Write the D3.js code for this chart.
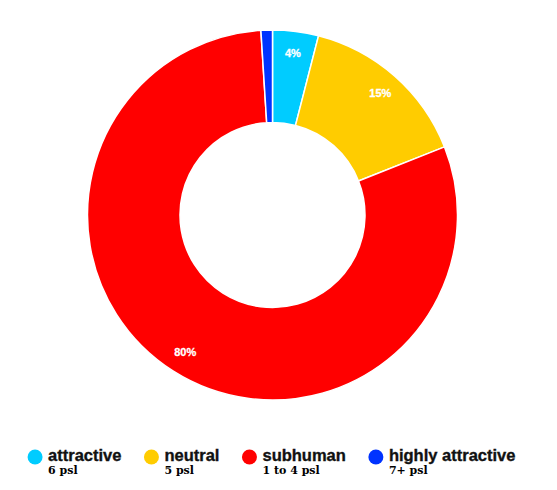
<!DOCTYPE html>
<html>
<head>
<meta charset="utf-8">
<script src="https://cdn.jsdelivr.net/npm/d3@7"></script>
<style>
  html, body { margin: 0; padding: 0; background: #fff; }
</style>
</head>
<body>
<div class="canva"></div>
<script>
// chart data
const labels = ["attractive", "neutral", "subhuman", "highly attractive"];
const subLabels = ["6 psl", "5 psl", "1 to 4 psl", "7+ psl"];
const values = [4, 15, 80, 1];
const colors = ["#00ccff", "#ffcc00", "#ff0000", "#0033ff"];

const width = 557, height = 490;
const cx = 272.5, cy = 215;
const outerR = 185, innerR = 92.5;

const svg = d3.select(".canva").append("svg")
    .attr("width", width)
    .attr("height", height);

const data = labels.map((l, i) => ({label: l, sub: subLabels[i], value: values[i], color: colors[i]}));
const total = d3.sum(values);

const pie = d3.pie().sort(null).value(d => d.value);
const arc = d3.arc().innerRadius(innerR).outerRadius(outerR);
const labelArc = d3.arc().innerRadius(163).outerRadius(163);

const donut = svg.append("g").attr("transform", `translate(${cx}, ${cy})`);

donut.selectAll("path")
    .data(pie(data))
    .join("path")
    .attr("d", arc)
    .attr("fill", d => d.data.color)
    .attr("stroke", "#fff")
    .attr("stroke-width", 1.5);

// percentage labels, skip the tiny slice
donut.selectAll("text")
    .data(pie(data).filter(d => d.value / total >= 0.02))
    .join("text")
    .attr("transform", d => `translate(${labelArc.centroid(d)})`)
    .attr("text-anchor", "middle")
    .attr("dy", "0.35em")
    .attr("fill", "#fff")
    .attr("stroke", "#fff")
    .attr("stroke-width", 0.3)
    .style("font-family", "'Liberation Sans', Arial, sans-serif")
    .style("font-weight", "bold")
    .style("font-size", "11px")
    .text(d => Math.round(d.value / total * 100) + "%");

// legend
const legend = svg.append("g");
const items = legend.selectAll("g")
    .data(data)
    .join("g");

items.append("circle")
    .attr("cx", 0)
    .attr("cy", 0)
    .attr("r", 7.5)
    .attr("fill", d => d.color);

items.append("text")
    .attr("class", "main")
    .attr("x", 13)
    .attr("y", 4)
    .attr("fill", "#111")
    .attr("stroke", "#111")
    .attr("stroke-width", 0.35)
    .style("font-family", "'Liberation Sans', Arial, sans-serif")
    .style("font-weight", "bold")
    .style("font-size", "16.5px")
    .text(d => d.label);

items.append("text")
    .attr("x", 13)
    .attr("y", 16.5)
    .attr("fill", "#000")
    .style("font-family", "'DejaVu Serif', serif")
    .style("font-weight", "bold")
    .style("font-size", "11px")
    .text(d => d.sub);

// lay out legend items side by side once fonts are ready
function layoutLegend() {
    let xPos = 0;
    items.each(function() {
        const g = d3.select(this);
        const w = g.select("text.main").node().getComputedTextLength();
        g.attr("transform", `translate(${xPos}, 0)`);
        xPos += 13 + w + 30;
    });
    const legendW = xPos - 30 + 7.5;
    legend.attr("transform", `translate(${32 + 7.5 + (479 - legendW) / 2}, 457)`);
}
layoutLegend();
if (document.fonts) document.fonts.ready.then(layoutLegend);
</script>
</body>
</html>
